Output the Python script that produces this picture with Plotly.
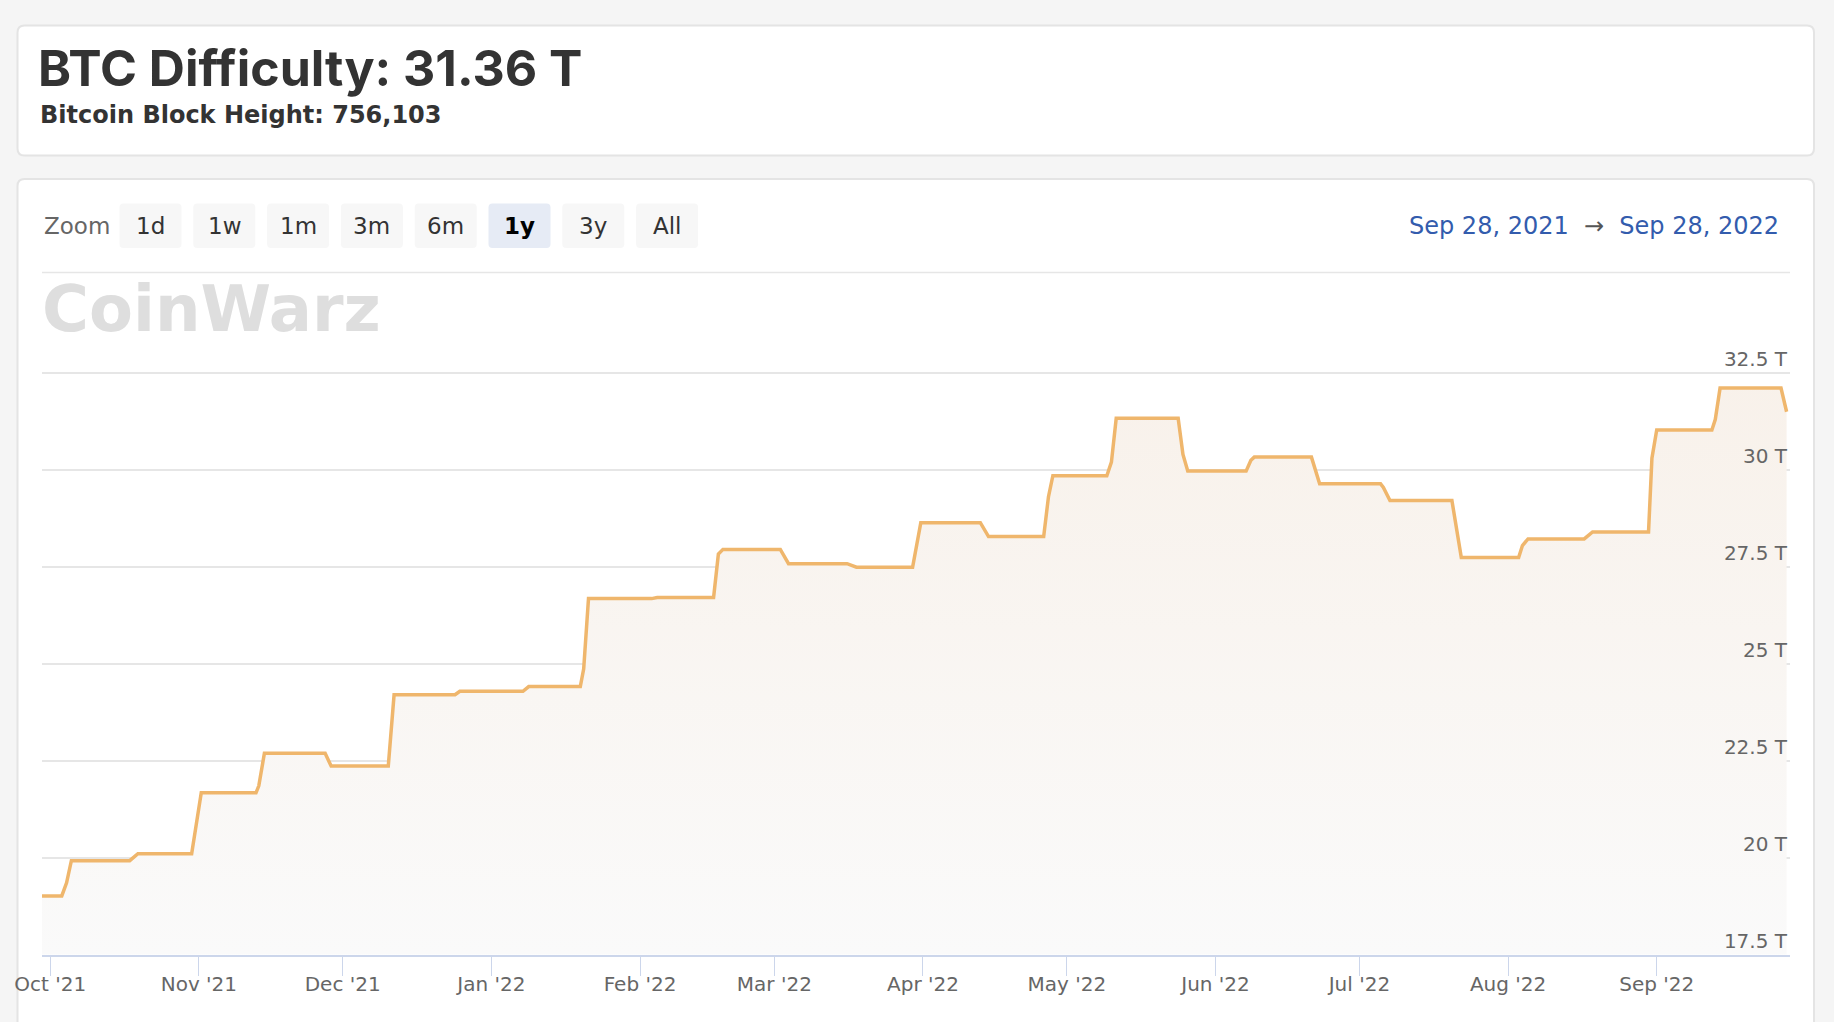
import plotly.graph_objects as go

W, H = 1834, 1022

# difficulty series (T)
dates = [
    "2021-09-29 07:00", "2021-10-03 10:00", "2021-10-04 10:00", "2021-10-05 10:00",
    "2021-10-17 14:00", "2021-10-19 07:00", "2021-10-30 12:00", "2021-11-01 12:00",
    "2021-11-12 22:00", "2021-11-13 12:00", "2021-11-14 16:00", "2021-11-27 08:00",
    "2021-11-28 14:00", "2021-12-10 12:00", "2021-12-11 17:00", "2021-12-24 10:00",
    "2021-12-25 10:00", "2022-01-07 14:00", "2022-01-08 19:00", "2022-01-19 13:00",
    "2022-01-20 06:00", "2022-01-21 06:00", "2022-02-03 10:00", "2022-02-04 14:00",
    "2022-02-16 08:00", "2022-02-17 08:00", "2022-02-18 07:00", "2022-03-02 06:00",
    "2022-03-03 23:00", "2022-03-16 04:00", "2022-03-18 03:00", "2022-03-29 20:00",
    "2022-03-31 13:00", "2022-04-12 23:00", "2022-04-14 16:00", "2022-04-26 04:00",
    "2022-04-27 04:00", "2022-04-28 02:00", "2022-05-09 08:00", "2022-05-10 07:00",
    "2022-05-11 07:00", "2022-05-24 05:00", "2022-05-25 05:00", "2022-05-26 05:00",
    "2022-06-07 09:00", "2022-06-08 09:00", "2022-06-09 02:00", "2022-06-21 00:00",
    "2022-06-22 17:00", "2022-07-05 10:00", "2022-07-06 00:00", "2022-07-07 09:00",
    "2022-07-20 07:00", "2022-07-22 06:00", "2022-08-03 05:00", "2022-08-04 00:00",
    "2022-08-05 04:00", "2022-08-16 21:00", "2022-08-18 15:00", "2022-08-30 07:00",
    "2022-08-31 00:00", "2022-09-01 00:00", "2022-09-12 12:00", "2022-09-13 05:00",
    "2022-09-14 05:00", "2022-09-26 22:00", "2022-09-28 02:00",
]
difficulty = [
    19.01, 19.01, 19.35, 19.92,
    19.92, 20.10, 20.10, 21.67,
    21.67, 21.85, 22.69, 22.69,
    22.36, 22.36, 24.20, 24.20,
    24.29, 24.29, 24.41, 24.41,
    24.87, 26.68, 26.68, 26.71,
    26.71, 27.83, 27.95, 27.95,
    27.58, 27.58, 27.49, 27.49,
    28.64, 28.64, 28.28, 28.28,
    29.31, 29.85, 29.85, 30.20,
    31.33, 31.33, 30.40, 29.97,
    29.97, 30.25, 30.33, 30.33,
    29.64, 29.64, 29.55, 29.21,
    29.21, 27.74, 27.74, 28.05,
    28.22, 28.22, 28.40, 28.40,
    30.30, 31.03, 31.03, 31.30,
    32.11, 32.11, 31.50,
]

month_ticks = ["2021-10-01", "2021-11-01", "2021-12-01", "2022-01-01", "2022-02-01",
               "2022-03-01", "2022-04-01", "2022-05-01", "2022-06-01", "2022-07-01",
               "2022-08-01", "2022-09-01"]
month_labels = ["Oct '21", "Nov '21", "Dec '21", "Jan '22", "Feb '22", "Mar '22",
                "Apr '22", "May '22", "Jun '22", "Jul '22", "Aug '22", "Sep '22"]
y_ticks = [17.5, 20, 22.5, 25, 27.5, 30, 32.5]
y_labels = ["17.5 T", "20 T", "22.5 T", "25 T", "27.5 T", "30 T", "32.5 T"]

zoom_buttons = ["1d", "1w", "1m", "3m", "6m", "1y", "3y", "All"]
selected = "1y"
title = "BTC Difficulty: 31.36 T"
subtitle = "Bitcoin Block Height: 756,103"
range_from = "Sep 28, 2021"
range_to = "Sep 28, 2022"


def px(x):
    return x / W


def py(y):
    return 1 - y / H


def rounded(x0, y0, x1, y1, r):
    # rounded rectangle path in paper coords, input in pixels
    pts = [
        f"M {px(x0 + r)},{py(y0)}",
        f"L {px(x1 - r)},{py(y0)}",
        f"Q {px(x1)},{py(y0)} {px(x1)},{py(y0 + r)}",
        f"L {px(x1)},{py(y1 - r)}",
        f"Q {px(x1)},{py(y1)} {px(x1 - r)},{py(y1)}",
        f"L {px(x0 + r)},{py(y1)}",
        f"Q {px(x0)},{py(y1)} {px(x0)},{py(y1 - r)}",
        f"L {px(x0)},{py(y0 + r)}",
        f"Q {px(x0)},{py(y0)} {px(x0 + r)},{py(y0)} Z",
    ]
    return " ".join(pts)


fig = go.Figure()
fig.add_trace(go.Scatter(
    x=dates, y=difficulty, mode="lines",
    line=dict(color="#efb66c", width=3.5),
    fill="tozeroy",
    fillgradient=dict(type="vertical", start=17.5, stop=32.5,
                      colorscale=[[0, "#fafafa"], [1, "#f8f1ea"]]),
    hoverinfo="skip", showlegend=False,
))

shapes = []
# cards
shapes.append(dict(type="path", path=rounded(17.5, 25.5, 1814, 155.5, 7),
                   xref="paper", yref="paper", fillcolor="white",
                   line=dict(color="#e4e4e4", width=2), layer="below"))
shapes.append(dict(type="path", path=rounded(17.5, 179, 1814, 1060, 7),
                   xref="paper", yref="paper", fillcolor="white",
                   line=dict(color="#e4e4e4", width=2), layer="below"))
# range selector separator
shapes.append(dict(type="line", x0=px(42), x1=px(1790), y0=py(272.5), y1=py(272.5),
                   xref="paper", yref="paper", line=dict(color="#e6e6e6", width=1.5),
                   layer="below"))

annotations = [
    dict(text=title, x=px(36), y=py(68), xanchor="left", yanchor="middle",
         font=dict(family="Inter", size=50, color="#333333", weight="bold")),
    dict(text=subtitle, x=px(38), y=py(115), xanchor="left", yanchor="middle",
         font=dict(family="DejaVu Sans", size=24, color="#333333", weight="bold")),
    dict(text="CoinWarz", x=px(40), y=py(309), xanchor="left", yanchor="middle",
         font=dict(family="DejaVu Sans", size=64, color="#dedede", weight="bold")),
    dict(text="Zoom", x=px(42), y=py(226), xanchor="left", yanchor="middle",
         font=dict(family="DejaVu Sans", size=23, color="#666666")),
    dict(text=f"{range_from}  <span style='color:#555555'>→</span>  {range_to}",
         x=px(1781), y=py(226), xanchor="right", yanchor="middle",
         font=dict(family="DejaVu Sans", size=24, color="#335cad")),
]

bx0, bstep, bw = 119.5, 73.8, 62
for i, b in enumerate(zoom_buttons):
    x0 = bx0 + i * bstep
    on = b == selected
    shapes.append(dict(type="path", path=rounded(x0, 203.5, x0 + bw, 248, 4),
                       xref="paper", yref="paper",
                       fillcolor="#e6ebf5" if on else "#f7f7f7",
                       line=dict(width=0), layer="below"))
    annotations.append(dict(
        text=b, x=px(x0 + bw / 2), y=py(226), xanchor="center", yanchor="middle",
        font=dict(family="DejaVu Sans", size=23, color="#000000" if on else "#333333",
                  weight="bold" if on else "normal")))

for a in annotations:
    a.update(xref="paper", yref="paper", showarrow=False)

# y range padded a little above 32.5 so its grid line is drawn
y_top = 32.6
top_px = 373 - (y_top - 32.5) * (954.5 - 373) / 15

fig.update_layout(
    width=W, height=H,
    margin=dict(l=0, r=0, t=0, b=0, autoexpand=False),
    paper_bgcolor="#f5f5f5",
    plot_bgcolor="rgba(0,0,0,0)",
    shapes=shapes,
    annotations=annotations,
    xaxis=dict(
        type="date", automargin=False,
        domain=[px(42), px(1790)],
        range=["2021-09-29 07:00", "2022-09-28 19:00"],
        showgrid=False, zeroline=False,
        showline=True, linecolor="#ccd6eb", linewidth=2,
        ticks="outside", ticklen=19, tickwidth=1, tickcolor="#ccd6eb",
        ticklabelstandoff=-9,
        tickvals=month_ticks, ticktext=month_labels,
        tickfont=dict(family="DejaVu Sans", size=20, color="#666666"),
    ),
    yaxis=dict(
        automargin=False,
        domain=[py(954.5), py(top_px)],
        range=[17.5, y_top],
        side="right",
        showgrid=True, gridcolor="#e6e6e6", gridwidth=1.5,
        zeroline=False, showline=False, ticks="",
        tickvals=y_ticks, ticktext=y_labels,
        ticklabelposition="inside", ticklabeloverflow="allow",
        ticklabelshift=-14,
        tickfont=dict(family="DejaVu Sans", size=20, color="#666666"),
    ),
)

fig.write_html("out.html", config={"displayModeBar": False},
               post_script="document.body.style.margin='0';document.body.style.overflow='hidden';")
